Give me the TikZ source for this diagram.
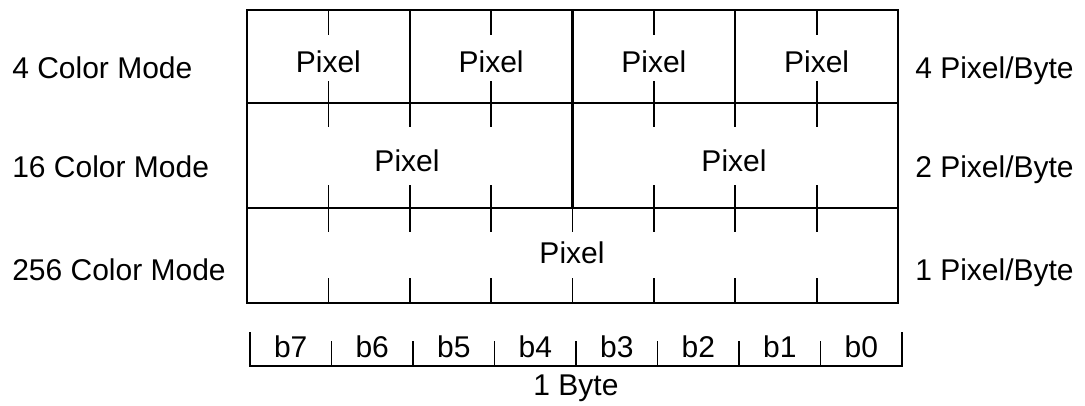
\documentclass[tikz,border=0pt]{standalone}
\usepackage{fontspec}
\setmainfont{Liberation Sans}
\usetikzlibrary{positioning}
\tikzset{
  modetext/.style={anchor=base west, inner sep=0pt},
  pixeltext/.style={anchor=base, inner sep=0pt},
  bittext/.style={anchor=base, inner sep=0pt},
  frameline/.style={line width=1.6pt},
  tickline/.style={line width=1.3pt},
}

\begin{document}
\begin{tikzpicture}[x=0.75pt, y=-0.75pt, font=\fontsize{22.5}{27}\selectfont]
\useasboundingbox (0,0) rectangle (1085,405);
% byte frame with the three modes
\draw[frameline] (247,10) rectangle (898,303);
\draw[frameline] (247,103) -- (898,103);
\draw[frameline] (247,208) -- (898,208);
\foreach \i in {2,6} \draw[frameline] ({247+81.375*\i},10) -- ({247+81.375*\i},103);
\draw[frameline] ({247+81.375*4},10) -- ({247+81.375*4},208);
% bit ticks
\foreach \i in {1,3,5,7} {
  \draw[tickline] ({247+81.375*\i},10) -- ++(0,25);
  \draw[tickline] ({247+81.375*\i},103) -- ++(0,-22);
}
\foreach \i in {1,2,3,5,6,7} {
  \draw[tickline] ({247+81.375*\i},103) -- ++(0,24);
  \draw[tickline] ({247+81.375*\i},208) -- ++(0,-23);
}
\foreach \i in {1,...,7} {
  \draw[tickline] ({247+81.375*\i},208) -- ++(0,24);
  \draw[tickline] ({247+81.375*\i},303) -- ++(0,-25);
}
% pixels
\foreach \i/\n in {1/a,3/b,5/c,7/d}
  \node[pixeltext] (px4\n) at ({247+81.375*\i},72) {Pixel};
\node[pixeltext] (px16a) at (407,171) {Pixel};
\node[pixeltext] (px16b) at (734,171) {Pixel};
\node[pixeltext] (px256) at (572,263) {Pixel};
% mode and rate labels
\node[modetext] (mode4) at (12,78) {4 Color Mode};
\node[modetext] (mode16) at (12,177) {16 Color Mode};
\node[modetext] (mode256) at (12,280) {256 Color Mode};
\node[modetext] (rate4) at (915,78) {4 Pixel/Byte};
\node[modetext] (rate2) at (915,177) {2 Pixel/Byte};
\node[modetext] (rate1) at (915,280) {1 Pixel/Byte};
% one byte
\draw[tickline] (250,332) |- (902,366) -- (902,332);
\foreach \i in {1,...,7} \draw[tickline] ({250+81.5*\i},341) -- ++(0,25);
\foreach \b [count=\i] in {7,6,5,4,3,2,1,0}
  \node[bittext] (bit\b) at ({250+81.5*(\i-0.5)},357) {b\b};
\node[bittext] (byte) at (576,395) {1 Byte};
\end{tikzpicture}
\end{document}
